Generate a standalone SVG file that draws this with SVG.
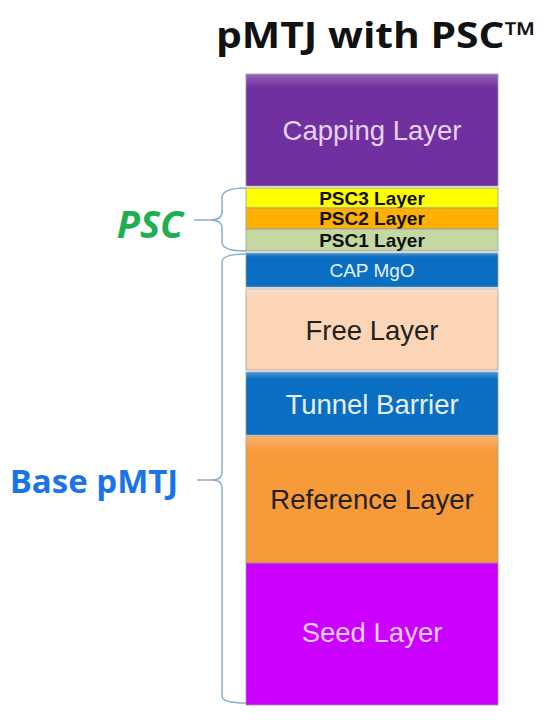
<svg xmlns="http://www.w3.org/2000/svg" width="552" height="728" viewBox="0 0 552 728">
<style>
.lbl{font-family:"Liberation Sans",Arial,sans-serif;text-anchor:middle}
.big{font-size:27.5px}
.psc{font-size:19px;font-weight:bold;fill:#111}
.brace{fill:none;stroke:#8aaed0;stroke-width:1.5}
.layer{stroke:#9a9a9a;stroke-width:0.8}
</style>
<defs>
<linearGradient id="gloss" x1="0" y1="0" x2="0" y2="1">
<stop offset="0" stop-color="#fff" stop-opacity="0.25"/>
<stop offset="0.12" stop-color="#fff" stop-opacity="0"/>
<stop offset="1" stop-color="#fff" stop-opacity="0"/>
</linearGradient>
</defs>
<rect width="552" height="728" fill="#fff"/>
<text x="376" y="48" font-family="'Open Sans',sans-serif" font-weight="bold" font-size="36" text-anchor="middle" textLength="320" lengthAdjust="spacingAndGlyphs" fill="#111">pMTJ with PSC™</text>

<g id="capping"><rect class="layer" x="246" y="74" width="252" height="112" fill="#7030a0"/><rect x="246" y="74" width="252" height="112" fill="url(#gloss)"/><text class="lbl big" x="372" y="140" fill="#e6d3f2">Capping Layer</text></g>
<g id="psc3"><rect class="layer" x="246" y="188" width="252" height="20" fill="#ffff00"/><text class="lbl psc" x="372" y="205">PSC3 Layer</text></g>
<g id="psc2"><rect class="layer" x="246" y="208" width="252" height="21" fill="#ffb000"/><text class="lbl psc" x="372" y="225">PSC2 Layer</text></g>
<g id="psc1"><rect class="layer" x="246" y="229" width="252" height="22" fill="#c4d8a2"/><text class="lbl psc" x="372" y="247">PSC1 Layer</text></g>
<g id="capmgo"><rect class="layer" x="246" y="253" width="252" height="34" fill="#0a6fc2"/><rect x="246" y="253" width="252" height="34" fill="url(#gloss)"/><text class="lbl" x="372" y="277" font-size="19" fill="#e8f0fa">CAP MgO</text></g>
<g id="free"><rect class="layer" x="246" y="289" width="252" height="81" fill="#fbd5b5"/><rect x="246" y="289" width="252" height="81" fill="url(#gloss)"/><text class="lbl big" x="372" y="340" fill="#222">Free Layer</text></g>
<g id="tunnel"><rect class="layer" x="246" y="372" width="252" height="63" fill="#0a6fc2"/><rect x="246" y="372" width="252" height="63" fill="url(#gloss)"/><text class="lbl big" x="372" y="414" fill="#e8f0fa">Tunnel Barrier</text></g>
<g id="reference"><rect class="layer" x="246" y="436" width="252" height="127" fill="#f79a3a"/><rect x="246" y="436" width="252" height="127" fill="url(#gloss)"/><text class="lbl big" x="372" y="509" fill="#222">Reference Layer</text></g>
<g id="seed"><rect class="layer" x="246" y="563" width="252" height="142" fill="#cc00ff"/><text class="lbl big" x="372" y="642" fill="#f6cdfc">Seed Layer</text></g>

<g id="labels">
<text x="150" y="238" font-family="'Open Sans',sans-serif" font-weight="bold" font-style="italic" font-size="38" text-anchor="middle" fill="#1fae50">PSC</text>
<text x="94" y="493" font-family="'Open Sans',sans-serif" font-weight="bold" font-size="33" text-anchor="middle" fill="#1a74e8">Base pMTJ</text>
</g>

<g id="connectors">
<path class="brace" d="M246,188 Q222,188 222,198 L222,212 Q222,220 210,220 L194,220 M210,220 Q222,220 222,228 L222,242 Q222,251 246,251"/>
<path class="brace" d="M246,254 Q222,254 222,262 L222,472 Q222,480 212,480 L197,480 M212,480 Q222,480 222,488 L222,696 Q222,703 246,703"/>
</g>
</svg>
